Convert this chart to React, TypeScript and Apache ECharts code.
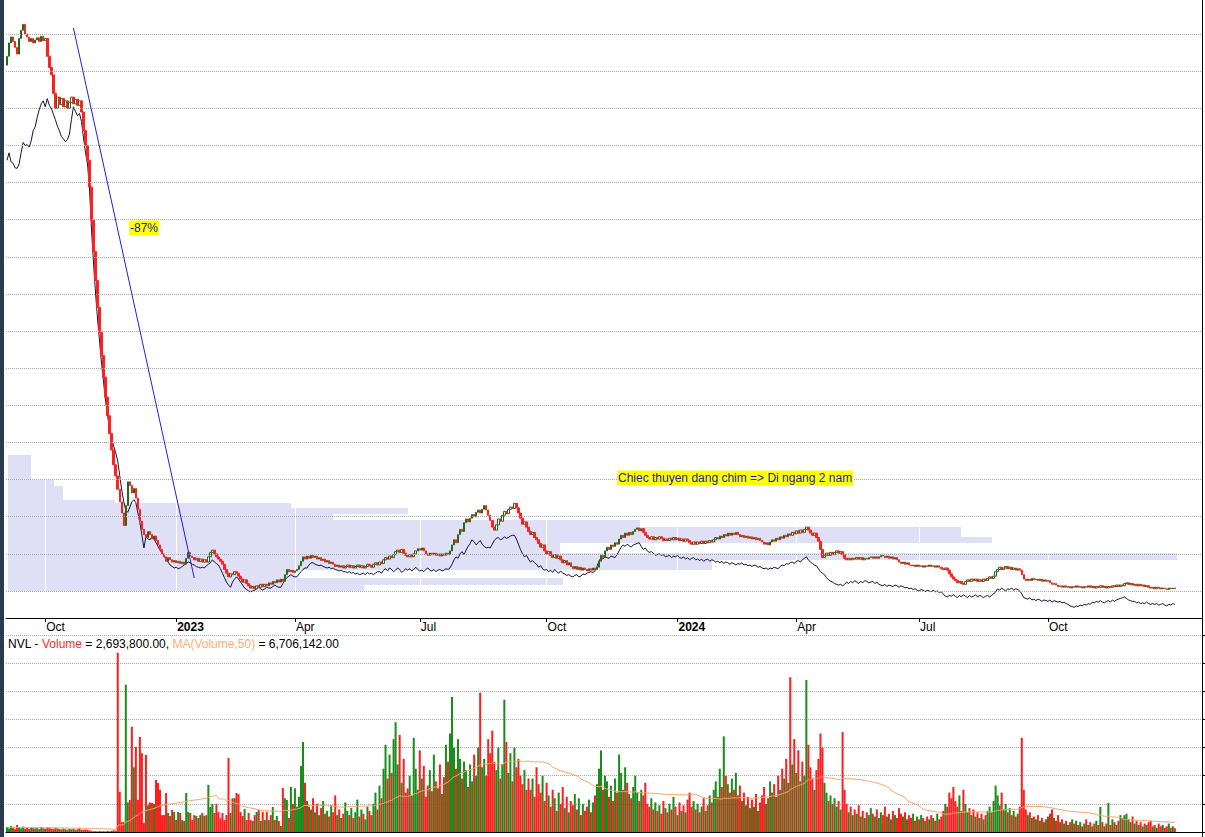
import React, { useEffect, useRef } from "react";
import * as echarts from "echarts";

// ---------- data ----------
const HOLIDAYS = [
  "2023-01-02", "2023-01-20", "2023-01-23", "2023-01-24", "2023-01-25", "2023-01-26",
  "2023-05-01", "2023-05-02", "2023-05-03", "2023-09-01", "2023-09-04",
  "2024-01-01", "2024-02-08", "2024-02-09", "2024-02-12", "2024-02-13", "2024-02-14",
  "2024-04-18", "2024-04-29", "2024-04-30", "2024-05-01", "2024-09-02", "2024-09-03",
  "2025-01-01",
];
const EXTRA_DAYS = 13;
const FIRST_OPEN = 80.8;

// NVL daily closes (thousand VND), from 2022-09-06
const CLOSE = [
  82.0, 83.8, 84.6, 84.0, 83.2, 82.3, 84.4, 85.5, 86.3, 85.0,
  84.6, 84.0, 84.4, 83.8, 84.2, 84.5, 84.0, 84.7, 84.1, 84.4,
  82.0, 80.5, 79.5, 77.0, 75.0, 76.5, 75.5, 76.3, 75.2, 76.0,
  75.0, 75.8, 76.5, 75.6, 76.2, 75.4, 76.0, 74.5, 72.0, 70.0,
  68.0, 64.4, 59.9, 55.7, 51.8, 48.2, 44.8, 41.7, 38.8, 36.1,
  33.6, 31.2, 29.0, 27.0, 25.5, 23.7, 22.0, 20.5, 18.8, 21.5,
  24.7, 24.2, 23.2, 23.8, 22.5, 21.0, 19.4, 18.3, 17.6, 17.2,
  18.0, 17.6, 17.0, 17.4, 16.8, 16.2, 15.6, 15.0, 14.6, 14.0,
  14.5, 14.2, 13.9, 14.1, 13.8, 14.0, 13.7, 13.9, 13.6, 14.4,
  15.2, 14.7, 14.5, 14.2, 14.4, 14.0, 14.3, 13.9, 14.2, 13.9,
  14.6, 15.2, 15.5, 15.0, 14.6, 14.3, 14.0, 13.6, 12.9, 12.4,
  11.9, 12.3, 12.2, 12.6, 12.4, 12.0, 11.6, 11.2, 11.5, 11.0,
  10.7, 10.4, 10.6, 10.3, 10.7, 10.5, 10.9, 10.6, 10.9, 10.7,
  11.1, 10.9, 11.3, 11.1, 11.5, 11.2, 11.6, 11.3, 12.2, 12.9,
  12.6, 12.8, 12.5, 12.7, 12.9, 13.4, 14.0, 14.6, 14.3, 14.7,
  14.4, 14.8, 14.5, 14.7, 14.3, 14.5, 14.1, 14.3, 13.9, 14.1,
  13.7, 13.9, 13.6, 13.3, 13.5, 13.2, 13.4, 13.1, 13.3, 13.5,
  13.2, 13.4, 13.1, 13.3, 13.5, 13.2, 13.4, 13.1, 13.3, 13.6,
  13.4, 13.2, 13.6, 13.8, 13.5, 13.9, 13.7, 14.2, 14.5, 14.3,
  14.7, 14.5, 14.9, 15.3, 15.5, 15.2, 15.6, 15.1, 14.8, 14.6,
  14.9, 14.6, 15.0, 15.4, 15.7, 15.5, 15.8, 15.4, 15.0, 14.8,
  15.1, 14.9, 15.1, 14.8, 15.0, 14.7, 15.0, 14.8, 15.1, 14.9,
  15.4, 16.2, 16.9, 16.5, 17.6, 18.3, 18.0, 19.2, 19.7, 19.3,
  19.8, 20.3, 20.0, 20.6, 20.9, 20.5, 21.0, 21.5, 20.9, 20.2,
  19.5, 18.6, 18.2, 18.9, 19.7, 19.4, 20.2, 20.7, 20.4, 21.0,
  21.3, 21.1, 21.8, 21.2, 20.5, 19.8, 19.0, 19.3, 18.6, 18.0,
  17.6, 17.9, 17.2, 16.9, 16.4, 15.9, 16.2, 15.4, 15.0, 15.3,
  14.8, 14.5, 14.9, 14.4, 14.7, 14.2, 13.8, 14.1, 13.5, 13.8,
  13.3, 13.0, 13.3, 12.9, 13.2, 12.8, 13.1, 12.9, 12.7, 13.0,
  12.8, 13.1, 12.9, 13.2, 14.0, 14.8, 14.5, 15.4, 15.9, 15.6,
  16.2, 16.0, 16.5, 16.3, 17.0, 17.5, 17.2, 17.8, 17.5, 17.9,
  17.6, 18.0, 18.3, 18.5, 18.1, 18.4, 17.9, 17.5, 17.2, 17.0,
  17.3, 16.9, 17.2, 17.0, 17.3, 17.1, 16.8, 17.0, 16.8, 17.1,
  16.9, 17.2, 16.9, 17.1, 16.8, 17.0, 16.7, 17.0, 16.8, 16.5,
  16.3, 16.6, 16.3, 16.6, 16.4, 16.7, 16.4, 16.7, 16.5, 16.8,
  16.6, 16.9, 17.2, 17.0, 17.4, 17.2, 17.6, 17.4, 17.8, 17.5,
  17.8, 17.6, 17.9, 17.6, 17.3, 17.5, 17.2, 17.4, 17.1, 17.3,
  17.0, 17.2, 16.9, 17.1, 16.8, 16.6, 16.3, 16.5, 16.2, 16.6,
  16.9, 16.7, 17.1, 16.9, 17.3, 17.1, 17.5, 17.3, 17.7, 17.5,
  17.9, 17.7, 18.1, 17.8, 18.2, 17.9, 18.3, 18.6, 18.2, 17.8,
  17.5, 17.8, 17.2, 16.7, 15.6, 14.5, 14.8, 15.1, 14.8, 15.2,
  14.9, 15.2, 15.4, 15.1, 15.3, 14.9, 14.4, 14.2, 14.4, 14.2,
  14.4, 14.3, 14.5, 14.3, 14.5, 14.2, 14.4, 14.3, 14.5, 14.6,
  14.4, 14.6, 14.4, 14.6, 14.8, 14.7, 14.5, 14.7, 14.4, 14.6,
  14.3, 14.5, 14.2, 13.9, 13.7, 13.9, 13.6, 13.8, 13.5, 13.4,
  13.5, 13.3, 13.5, 13.3, 13.4, 13.2, 13.4, 13.3, 13.5, 13.3,
  13.4, 13.2, 13.4, 13.2, 13.0, 12.9, 13.1, 12.8, 12.3, 11.9,
  11.6, 11.4, 11.1, 11.3, 11.0, 10.9, 11.3, 11.5, 11.3, 11.6,
  11.4, 11.6, 11.3, 11.5, 11.3, 11.6, 11.4, 11.7, 11.9, 11.7,
  12.0, 12.6, 12.9, 13.2, 12.9, 13.1, 13.3, 13.0, 13.2, 12.9,
  13.1, 12.8, 13.0, 12.8, 12.2, 11.6, 11.4, 11.6, 11.4, 11.7,
  11.5, 11.6, 11.4, 11.6, 11.3, 11.5, 11.3, 11.4, 11.1, 10.9,
  11.0, 10.8, 10.6, 10.7, 10.5, 10.7, 10.5, 10.6, 10.4, 10.6,
  10.5, 10.7, 10.5, 10.6, 10.4, 10.6, 10.5, 10.7, 10.5, 10.6,
  10.4, 10.6, 10.5, 10.7, 10.5, 10.6, 10.4, 10.6, 10.5, 10.7,
  10.6, 10.8, 10.6, 10.8, 10.7, 11.0, 11.1, 10.9, 11.0, 10.8,
  10.9, 10.7, 10.9, 10.7, 10.8, 10.6, 10.7, 10.5, 10.4, 10.5,
  10.3, 10.5, 10.4, 10.3, 10.4, 10.3, 10.2, 10.4, 10.3, 10.4,
  10.3,
];

// comparison line (black), same price units
const COMPARE = [
  68.0, 69.0, 67.8, 67.6, 67.0, 66.9, 67.5, 69.0, 70.4, 70.0,
  70.1, 69.8, 70.6, 72.0, 72.5, 73.8, 74.8, 75.6, 76.0, 75.2,
  76.3, 75.4, 75.0, 74.2, 73.5, 72.6, 72.0, 71.2, 70.9, 70.5,
  70.8, 71.5, 73.5, 75.2, 74.6, 74.0, 74.3, 73.2, 71.0, 69.0,
  67.5, 64.0, 58.5, 54.0, 50.0, 46.5, 43.5, 40.5, 38.0, 35.5,
  33.5, 31.8, 30.5, 29.5, 28.6, 27.5, 25.5, 23.6, 22.0, 20.9,
  20.6, 21.3, 22.0, 22.3, 21.9, 20.5, 19.2, 17.5, 15.8, 17.3,
  17.0, 16.9, 17.3, 17.0, 16.5, 16.0, 15.5, 15.1, 14.7, 14.3,
  13.9, 13.5, 13.3, 13.1, 13.2, 13.0, 13.1, 13.3, 13.5, 13.7,
  13.9, 13.8, 13.6, 13.5, 13.3, 13.2, 13.1, 13.2, 13.1, 13.4,
  13.6, 13.8, 14.2, 13.9, 13.7, 13.5, 13.0, 12.4, 11.8, 11.2,
  10.8, 10.5, 11.2, 11.6, 11.9, 11.6, 11.2, 10.8, 10.4, 10.2,
  10.0, 9.9, 10.0, 10.1, 10.3, 10.5, 10.3, 10.1, 10.3, 10.5,
  10.4, 10.4, 10.6, 10.8, 10.6, 10.5, 10.5, 11.0, 11.5, 11.8,
  12.0, 12.2, 12.0, 11.9, 11.9, 12.3, 12.6, 12.9, 13.1, 13.1,
  13.5, 13.8, 13.8, 13.6, 13.5, 13.4, 13.5, 13.3, 13.2, 13.1,
  13.2, 13.0, 13.1, 12.9, 12.8, 12.7, 12.8, 12.6, 12.6, 12.5,
  12.6, 12.4, 12.5, 12.3, 12.4, 12.2, 12.3, 12.4, 12.2, 12.5,
  12.3, 12.4, 12.2, 12.4, 12.6, 12.6, 12.4, 12.8, 13.0, 12.7,
  13.1, 12.9, 12.6, 12.8, 13.1, 12.9, 12.5, 12.7, 13.0, 12.8,
  13.0, 12.7, 12.9, 13.2, 12.9, 12.7, 12.8, 12.6, 12.9, 13.1,
  12.8, 12.7, 12.9, 12.6, 12.8, 12.9, 12.7, 12.8, 13.0, 12.9,
  13.1, 13.6, 14.2, 14.6, 14.4, 15.0, 15.3, 14.9, 15.5, 16.0,
  16.4, 16.9, 16.6, 16.2, 16.5, 16.8, 16.3, 16.0, 15.8, 15.9,
  15.8, 16.3, 16.8, 17.1, 17.2, 16.9, 17.0, 17.3, 17.1, 17.2,
  17.4, 17.5, 17.5, 17.0, 16.3, 15.6, 15.0, 14.6, 14.8, 14.3,
  13.9, 14.1, 13.8, 13.6, 13.2, 13.4, 13.0, 12.8, 12.9, 12.6,
  12.8, 12.5, 12.9, 12.6, 12.4, 12.7, 12.4, 12.3, 12.1, 12.2,
  12.0, 11.9, 12.1, 12.2, 11.9, 12.0, 12.3, 12.2, 12.4, 12.5,
  12.6, 12.5, 12.7, 13.3, 14.0, 14.5, 14.3, 14.6, 14.5, 14.4,
  14.7, 14.6, 14.5, 14.9, 15.4, 15.9, 16.2, 16.0, 16.3, 16.1,
  15.9, 16.2, 16.3, 16.4, 16.5, 16.0, 15.6, 15.8, 15.4, 15.2,
  15.3, 15.1, 14.8, 14.9, 15.0, 14.8, 14.9, 14.6, 14.7, 14.8,
  14.5, 14.7, 14.6, 14.8, 14.5, 14.4, 14.6, 14.3, 14.5, 14.2,
  14.4, 14.5, 14.2, 14.3, 14.1, 14.3, 14.0, 14.2, 14.3, 14.0,
  14.2, 14.1, 13.9, 14.0, 13.8, 14.0, 13.7, 13.9, 13.8, 13.6,
  13.8, 13.7, 13.5, 13.7, 13.6, 13.8, 13.5, 13.6, 13.4, 13.5,
  13.3, 13.5, 13.4, 13.2, 13.3, 13.1, 13.0, 13.1, 12.9, 13.1,
  13.0, 13.2, 13.1, 13.0, 13.3, 13.5, 13.4, 13.7, 13.6, 13.8,
  13.9, 13.7, 14.0, 14.1, 13.9, 14.2, 14.4, 14.6, 14.2, 13.9,
  13.7, 13.5, 13.4, 13.0, 12.6, 12.4, 12.2, 11.8, 11.5, 11.3,
  11.2, 11.0, 10.9, 10.8, 10.9, 10.7, 10.9, 11.2, 11.0, 11.3,
  11.1, 11.4, 11.2, 11.0, 11.3, 11.1, 11.4, 11.3, 11.1, 11.2,
  11.3, 11.0, 11.2, 10.9, 10.8, 10.7, 10.9, 10.6, 10.8, 10.7,
  10.6, 10.8, 10.7, 10.5, 10.7, 10.6, 10.4, 10.5, 10.3, 10.4,
  10.2, 10.3, 10.1, 10.0, 10.2, 10.1, 9.9, 10.1, 10.0, 9.9,
  10.1, 9.9, 10.0, 9.8, 9.9, 9.6, 9.3, 9.2, 9.4, 9.3,
  9.5, 9.3, 9.1, 9.4, 9.2, 9.5, 9.3, 9.1, 9.4, 9.2,
  9.3, 9.5, 9.2, 9.4, 9.3, 9.1, 9.3, 9.4, 9.2, 9.4,
  9.6, 9.9, 10.3, 10.1, 10.4, 10.2, 10.0, 10.3, 10.2, 10.4,
  10.1, 10.3, 10.2, 10.0, 9.6, 9.1, 9.0, 8.9, 9.1, 8.8,
  8.9, 8.7, 8.9, 8.8, 8.6, 8.8, 8.7, 8.6, 8.8, 8.5,
  8.7, 8.6, 8.5, 8.6, 8.4, 8.5, 8.3, 8.2, 8.0, 7.9,
  7.8, 8.0, 7.9, 8.1, 8.0, 8.2, 8.1, 8.3, 8.2, 8.5,
  8.4, 8.6, 8.5, 8.7, 8.5, 8.4, 8.6, 8.7, 8.5, 8.8,
  8.6, 8.8, 8.9, 9.0, 9.1, 9.2, 9.0, 8.8, 8.7, 8.6,
  8.6, 8.4, 8.5, 8.3, 8.4, 8.3, 8.5, 8.3, 8.2, 8.3,
  8.2, 8.3, 8.1, 8.2, 8.3, 8.1, 8.0, 8.2, 8.1, 8.3,
  8.2,
];

// daily volume, millions of shares
const VOLUME = [
  3.5, 2.5, 4.2, 3.0, 2.0, 5.0, 3.2, 2.6, 3.8, 2.4,
  3.0, 2.2, 3.4, 2.8, 2.5, 3.1, 2.0, 3.6, 2.7, 2.3,
  3.3, 2.9, 2.4, 2.1, 3.0, 2.6, 2.2, 1.8, 2.5, 2.0,
  1.6, 2.3, 1.9, 2.4, 1.5, 2.0, 2.8, 1.7, 1.5, 1.9,
  1.6, 1.2, 0.8, 0.5, 0.6, 0.4, 0.7, 0.5, 0.6, 0.4,
  0.8, 0.5, 0.9, 1.2, 1.0, 127.4, 28.5, 7.0, 7.0, 104.7,
  21.0, 22.8, 74.8, 46.0, 60.5, 22.8, 67.6, 56.0, 6.4, 54.8,
  19.0, 21.0, 20.6, 20.0, 37.0, 34.9, 30.0, 12.0, 12.0, 27.7,
  13.5, 11.4, 15.7, 14.2, 8.5, 14.2, 13.5, 8.5, 7.8, 27.7,
  14.2, 13.5, 8.5, 12.0, 11.4, 9.9, 12.0, 13.5, 11.4, 12.0,
  33.5, 17.8, 20.0, 13.5, 20.0, 14.2, 9.9, 13.5, 8.5, 12.0,
  52.7, 13.5, 24.0, 24.0, 27.7, 26.8, 14.2, 11.4, 16.4, 8.5,
  13.5, 8.5, 7.8, 12.0, 14.2, 15.7, 7.8, 14.2, 8.5, 14.2,
  8.5, 12.0, 17.8, 8.5, 11.4, 7.8, 4.3, 31.3, 24.0, 22.8,
  9.9, 32.0, 20.0, 31.0, 18.0, 25.0, 47.0, 64.0, 35.0, 22.0,
  18.0, 16.0, 24.0, 14.0, 20.0, 12.0, 17.0, 22.0, 13.0, 15.0,
  11.0, 19.0, 14.0, 26.0, 12.0, 16.0, 10.0, 13.0, 21.0, 15.0,
  12.0, 17.0, 10.0, 14.0, 23.0, 11.0, 16.0, 13.0, 9.0, 18.0,
  15.0, 12.0, 20.0, 28.0, 16.0, 33.0, 24.0, 45.0, 62.0, 38.0,
  55.0, 42.0, 66.0, 78.0, 48.0, 69.0, 35.0, 52.0, 28.0, 31.0,
  40.0, 26.0, 67.0, 45.0, 30.0, 58.0, 38.0, 47.0, 25.0, 33.0,
  44.0, 29.0, 55.0, 36.0, 31.0, 48.0, 27.0, 39.0, 62.0, 50.0,
  70.0, 96.0, 60.0, 45.0, 66.0, 52.0, 38.0, 50.0, 44.0, 32.0,
  48.0, 36.0, 55.0, 40.0, 60.0, 99.0, 46.0, 52.0, 40.0, 66.0,
  56.0, 72.0, 50.0, 44.0, 60.0, 38.0, 48.0, 94.0, 64.0, 42.0,
  56.0, 36.0, 60.0, 46.0, 52.0, 40.0, 34.0, 44.0, 30.0, 38.0,
  30.0, 38.0, 25.0, 46.0, 34.0, 28.0, 40.0, 22.0, 35.0, 26.0,
  18.0, 30.0, 24.0, 15.0, 28.0, 20.0, 32.0, 17.0, 25.0, 14.0,
  22.0, 19.0, 27.0, 16.0, 24.0, 12.0, 20.0, 15.0, 18.0, 23.0,
  14.0, 21.0, 26.0, 34.0, 45.0, 58.0, 30.0, 40.0, 36.0, 25.0,
  33.0, 22.0, 38.0, 28.0, 55.0, 42.0, 30.0, 46.0, 35.0, 27.0,
  24.0, 32.0, 40.0, 28.0, 22.0, 30.0, 26.0, 35.0, 20.0, 18.0,
  24.0, 16.0, 21.0, 15.0, 19.0, 13.0, 22.0, 17.0, 14.0, 20.0,
  16.0, 25.0, 18.0, 12.0, 21.0, 15.0, 19.0, 14.0, 23.0, 28.0,
  18.0, 22.0, 16.0, 20.0, 14.0, 18.0, 24.0, 15.0, 19.0, 26.0,
  21.0, 30.0, 36.0, 25.0, 45.0, 32.0, 68.0, 40.0, 34.0, 28.0,
  38.0, 30.0, 42.0, 26.0, 33.0, 22.0, 28.0, 19.0, 25.0, 17.0,
  23.0, 18.0, 27.0, 15.0, 21.0, 26.0, 32.0, 20.0, 24.0, 36.0,
  28.0, 34.0, 25.0, 40.0, 30.0, 45.0, 38.0, 52.0, 35.0, 110.0,
  48.0, 66.0, 42.0, 58.0, 36.0, 50.0, 40.0, 108.0, 62.0, 46.0,
  38.0, 30.0, 44.0, 52.0, 70.0, 60.0, 35.0, 28.0, 22.0, 26.0,
  20.0, 24.0, 18.0, 22.0, 16.0, 71.0, 30.0, 20.0, 14.0, 18.0,
  12.0, 16.0, 13.0, 19.0, 11.0, 15.0, 10.0, 14.0, 12.0, 17.0,
  13.0, 11.0, 16.0, 10.0, 14.0, 12.0, 18.0, 11.0, 13.0, 9.0,
  15.0, 12.0, 10.0, 17.0, 13.0, 11.0, 14.0, 9.0, 12.0, 10.0,
  13.0, 8.0, 11.0, 9.0, 12.0, 10.0, 8.0, 11.0, 9.0, 12.0,
  10.0, 8.0, 13.0, 9.0, 11.0, 15.0, 20.0, 18.0, 28.0, 24.0,
  32.0, 22.0, 18.0, 26.0, 15.0, 30.0, 20.0, 14.0, 17.0, 12.0,
  16.0, 11.0, 14.0, 10.0, 13.0, 9.0, 12.0, 15.0, 18.0, 14.0,
  22.0, 33.0, 26.0, 19.0, 28.0, 16.0, 20.0, 14.0, 17.0, 12.0,
  15.0, 11.0, 13.0, 18.0, 67.0, 30.0, 16.0, 12.0, 14.0, 10.0,
  11.0, 9.0, 12.0, 8.0, 10.0, 7.0, 9.0, 11.0, 13.0, 16.0,
  10.0, 8.0, 12.0, 7.0, 9.0, 6.0, 8.0, 5.0, 7.0, 9.0,
  6.0, 8.0, 5.0, 7.0, 4.0, 6.0, 9.0, 5.0, 7.0, 4.0,
  6.0, 8.0, 5.0, 17.8, 7.0, 4.0, 6.0, 20.6, 5.0, 9.0,
  7.0, 5.0, 8.0, 12.0, 10.0, 12.0, 13.0, 9.0, 7.0, 11.0,
  6.0, 8.0, 5.0, 7.0, 4.0, 6.0, 5.0, 7.0, 8.0, 4.0,
  5.0, 3.0, 6.0, 4.0, 5.0, 3.0, 4.0, 6.0, 3.0, 4.0,
  2.6938,
];

// horizontal price gridlines (thousand VND)
const GRID_PRICES = [10, 15, 20, 25, 30, 35, 40, 45, 50, 55, 60, 65, 70, 75, 80, 85];

// volume-by-price profile: [price low, price high, relative volume]
const PROFILE = [
  [24.95, 28.31, 23],
  [24.14, 24.95, 46],
  [22.25, 24.14, 55],
  [21.85, 22.25, 107],
  [21.18, 21.85, 283],
  [20.37, 21.18, 400],
  [19.56, 20.37, 325],
  [18.62, 19.56, 632],
  [17.27, 18.62, 953],
  [16.46, 17.27, 984],
  [15.12, 16.46, 552],
  [14.17, 15.12, 1169],
  [12.83, 14.17, 704],
  [11.75, 12.83, 287],
  [10.81, 11.75, 555],
  [10.0, 10.81, 356],
];

// trend line drawn on the chart: [day index, price]
const TREND_START = [33, 85.8];
const TREND_END = [93, 11.75];

const MA_PERIOD = 50;
const TITLE_VOLUME = "2,693,800.00";
const TITLE_MA = "6,706,142.00";

// ---------- helpers ----------
function tradingDays(count: number): string[] {
  const hol = new Set(HOLIDAYS);
  const out: string[] = [];
  const d = new Date(Date.UTC(2022, 8, 6));
  while (out.length < count) {
    const dow = d.getUTCDay();
    const s = d.toISOString().slice(0, 10);
    if (dow !== 0 && dow !== 6 && !hol.has(s)) out.push(s);
    d.setUTCDate(d.getUTCDate() + 1);
  }
  return out;
}

const MONTHS = ["Jan", "Feb", "Mar", "Apr", "May", "Jun", "Jul", "Aug", "Sep", "Oct", "Nov", "Dec"];
const FONT = '"Liberation Sans", Arial, sans-serif';

function buildOption() {
  const dates = tradingDays(CLOSE.length + EXTRA_DAYS);
  const quarterIdx = new Set<number>();
  for (let i = 1; i < CLOSE.length; i++) {
    const m = +dates[i].slice(5, 7) - 1;
    const pm = +dates[i - 1].slice(5, 7) - 1;
    if (m !== pm && m % 3 === 0) quarterIdx.add(i);
  }
  const isQ = (i: number) => quarterIdx.has(i);

  const opens = CLOSE.map((c, i) => (i === 0 ? FIRST_OPEN : CLOSE[i - 1]));
  const candles = CLOSE.map((c, i) => {
    const o = opens[i];
    return [o, c, Math.min(o, c), Math.max(o, c)];
  });
  const volData = VOLUME.map((v, i) => ({
    value: v,
    itemStyle: { color: CLOSE[i] >= opens[i] ? "#1c8c1c" : "#ff1e1e" },
  }));
  const ma = VOLUME.map((_, i) => {
    const s = Math.max(0, i - MA_PERIOD + 1);
    let sum = 0;
    for (let k = s; k <= i; k++) sum += VOLUME[k];
    return +(sum / (i - s + 1)).toFixed(3);
  });

  const yMin = 6.364;
  const yMax = 89.58;

  const gridLineStyle = { type: "dotted" as const, color: "#a8a8a8", width: 1 };

  return {
    animation: false,
    backgroundColor: "#ffffff",
    grid: [
      { left: 6, right: 3, top: 0, height: 618 },
      { left: 6, right: 3, top: 635, height: 197 },
      { left: 8, right: 3, top: 0, height: 618 },
    ],
    xAxis: [
      {
        type: "category",
        gridIndex: 0,
        data: dates,
        boundaryGap: true,
        z: 2,
        axisLine: { show: true, lineStyle: { color: "#000", width: 1 } },
        axisTick: { show: true, alignWithLabel: true, interval: (i: number) => isQ(i), length: 4, lineStyle: { color: "#000" } },
        axisLabel: {
          show: true,
          interval: (i: number) => isQ(i),
          align: "left",
          margin: 3,
          padding: [0, 0, 0, 1],
          fontSize: 12,
          fontFamily: FONT,
          color: "#000",
          formatter: (v: string) => {
            const m = +v.slice(5, 7) - 1;
            if (m === 0) return "{b|" + v.slice(0, 4) + "}";
            return MONTHS[m];
          },
          rich: { b: { fontWeight: "bold", fontSize: 12, fontFamily: FONT, color: "#000" } },
        },
        splitLine: { show: true, interval: (i: number) => isQ(i), alignWithLabel: true, lineStyle: { color: "#ffffff", width: 1 } },
      },
      {
        type: "category",
        gridIndex: 1,
        data: dates,
        position: "top",
        boundaryGap: true,
        axisLine: { show: true, lineStyle: { color: "#000", width: 1 } },
        axisTick: { show: false },
        axisLabel: { show: false },
        splitLine: { show: false },
      },
      { type: "value", gridIndex: 2, min: 0, max: 1194, show: false },
    ],
    yAxis: [
      {
        type: "value",
        gridIndex: 0,
        position: "right",
        min: yMin,
        max: yMax,
        axisLine: { show: true, lineStyle: { color: "#000" } },
        axisTick: { show: false },
        axisLabel: { show: false },
        splitLine: { show: false },
      },
      {
        type: "value",
        gridIndex: 1,
        position: "right",
        min: 0,
        max: 140,
        interval: 20,
        axisLine: { show: true, lineStyle: { color: "#000" } },
        axisTick: { show: true, length: 4, lineStyle: { color: "#000" } },
        axisLabel: { show: false },
        splitLine: { show: true, lineStyle: gridLineStyle },
      },
      { type: "value", gridIndex: 2, min: yMin, max: yMax, show: false },
    ],
    series: [
      {
        type: "custom",
        name: "profile",
        xAxisIndex: 2,
        yAxisIndex: 2,
        z: 1,
        silent: true,
        data: PROFILE.map((p) => [p[2], p[0], p[1]]),
        renderItem: (params: any, api: any) => {
          const len = api.value(0);
          const lo = api.value(1);
          const hi = api.value(2);
          const a = api.coord([0, hi]);
          const b = api.coord([len, lo]);
          return {
            type: "rect",
            shape: { x: a[0], y: a[1], width: b[0] - a[0], height: b[1] - a[1] },
            style: { fill: "#dfdff5" },
          };
        },
      },
      {
        type: "line",
        name: "compare",
        xAxisIndex: 0,
        yAxisIndex: 0,
        z: 3,
        data: COMPARE,
        symbol: "none",
        lineStyle: { color: "#12123e", width: 1 },
        markLine: {
          silent: true,
          symbol: ["none", "none"],
          label: { show: false },
          lineStyle: gridLineStyle,
          data: [
            ...GRID_PRICES.map((v) => ({ yAxis: v, lineStyle: gridLineStyle })),
            [
              { coord: [dates[TREND_START[0]], TREND_START[1]], lineStyle: { type: "solid", color: "#1f1fe6", width: 1 } },
              { coord: [dates[TREND_END[0]], TREND_END[1]] },
            ],
          ],
        },
      },
      {
        type: "candlestick",
        name: "NVL",
        xAxisIndex: 0,
        yAxisIndex: 0,
        z: 4,
        barWidth: 2,
        data: candles,
        itemStyle: {
          color: "#ffffff",
          color0: "#ff2020",
          borderColor: "#1d6b1d",
          borderColor0: "#ff2020",
          borderWidth: 1,
        },
      },
      {
        type: "bar",
        name: "Volume",
        xAxisIndex: 1,
        yAxisIndex: 1,
        barCategoryGap: "0%",
        data: volData,
      },
      {
        type: "line",
        name: "MA",
        xAxisIndex: 1,
        yAxisIndex: 1,
        z: 3,
        data: ma,
        symbol: "none",
        lineStyle: { color: "#f5a36c", width: 1 },
      },
    ],
    graphic: [
      { type: "rect", shape: { x: 0, y: 0, width: 4, height: 837 }, style: { fill: "#2b3a4e" }, z: 10 },
      { type: "line", shape: { x1: 1202.5, y1: 0, x2: 1202.5, y2: 837 }, style: { stroke: "#000", lineWidth: 1 }, z: 10 },
      {
        type: "text",
        x: 8,
        y: 644,
        z: 10,
        style: {
          text:
            "{a|NVL - }{r|Volume}{a| = " + TITLE_VOLUME + ", }{o|MA(Volume," + MA_PERIOD + ")}{a| = " + TITLE_MA + "}",
          verticalAlign: "middle",
          rich: {
            a: { fill: "#000", fontSize: 12, fontFamily: FONT },
            r: { fill: "#ff2a2a", fontSize: 12, fontFamily: FONT },
            o: { fill: "#ffac74", fontSize: 12, fontFamily: FONT },
          },
        },
      },
      {
        type: "text",
        x: 129,
        y: 228,
        z: 10,
        style: {
          text: "-87%",
          fill: "#1c1ca8",
          fontSize: 12,
          fontFamily: FONT,
          verticalAlign: "middle",
          backgroundColor: "#ffff00",
          padding: [2, 1, 1, 1],
        },
      },
      {
        type: "text",
        x: 617,
        y: 478,
        z: 10,
        style: {
          text: "Chiec thuyen dang chim => Di ngang 2 nam",
          fill: "#1c1cb4",
          fontSize: 12,
          fontFamily: FONT,
          verticalAlign: "middle",
          backgroundColor: "#ffff00",
          padding: [2, 1, 1, 1],
        },
      },
    ],
  };
}

export default function App() {
  const ref = useRef<HTMLDivElement>(null);
  useEffect(() => {
    if (!ref.current) return;
    const chart = echarts.init(ref.current, null, { renderer: "svg" });
    chart.setOption(buildOption() as any);
    return () => chart.dispose();
  }, []);
  return (
    <div
      ref={ref}
      style={{ position: "absolute", left: 0, top: 0, width: 1205, height: 837, background: "#fff" }}
    />
  );
}
